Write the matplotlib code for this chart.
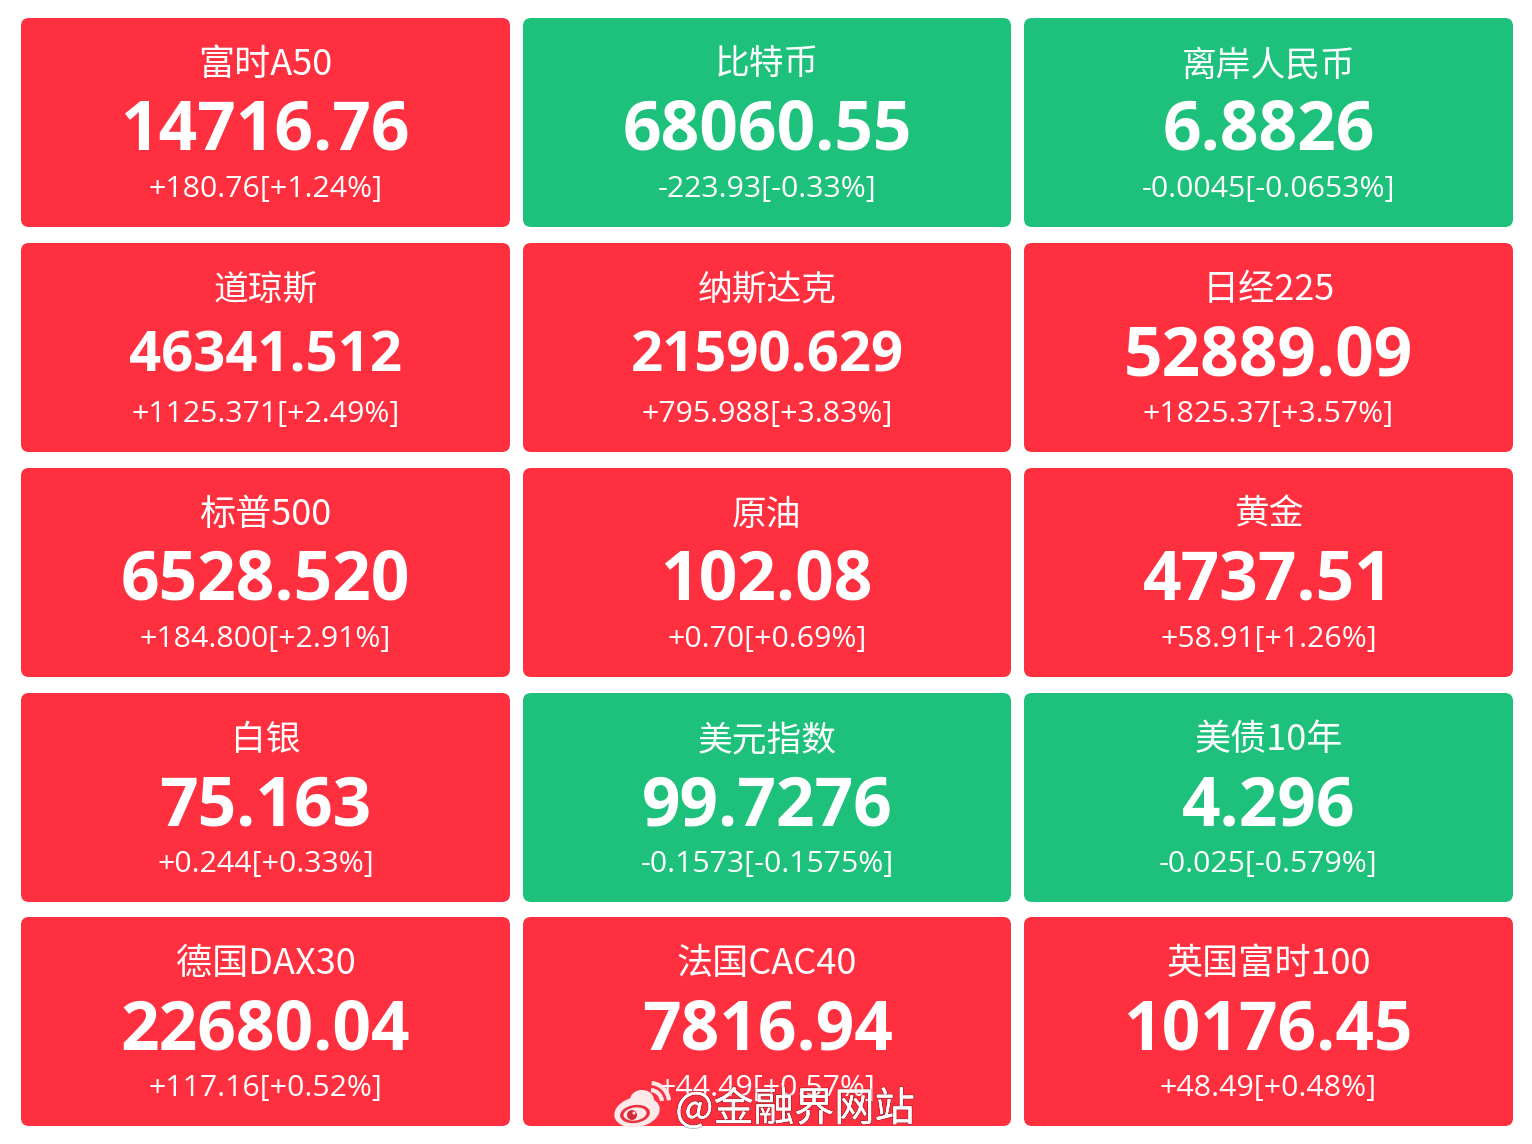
import matplotlib
matplotlib.use("Agg")
import matplotlib.pyplot as plt
import matplotlib.patheffects as pe
from matplotlib.patches import FancyBboxPatch, Ellipse, Arc, Circle

names = ["富时A50", "比特币", "离岸人民币",
         "道琼斯", "纳斯达克", "日经225",
         "标普500", "原油", "黄金",
         "白银", "美元指数", "美债10年",
         "德国DAX30", "法国CAC40", "英国富时100"]
values = ["14716.76", "68060.55", "6.8826",
          "46341.512", "21590.629", "52889.09",
          "6528.520", "102.08", "4737.51",
          "75.163", "99.7276", "4.296",
          "22680.04", "7816.94", "10176.45"]
changes = ["+180.76[+1.24%]", "-223.93[-0.33%]", "-0.0045[-0.0653%]",
           "+1125.371[+2.49%]", "+795.988[+3.83%]", "+1825.37[+3.57%]",
           "+184.800[+2.91%]", "+0.70[+0.69%]", "+58.91[+1.26%]",
           "+0.244[+0.33%]", "-0.1573[-0.1575%]", "-0.025[-0.579%]",
           "+117.16[+0.52%]", "+44.49[+0.57%]", "+48.49[+0.48%]"]

RED = "#fe303f"
GREEN = "#1dc17c"
lefts = [21, 523, 1024]
widths = [489, 488, 489]
tops = [18, 243, 468, 693, 917]
card_h = 209

plt.rcParams['font.family'] = ['Noto Sans CJK SC', 'DejaVu Sans']

fig = plt.figure(figsize=(15.32, 11.44), dpi=100)
ax = fig.add_axes([0, 0, 1, 1])
ax.set_xlim(0, 1532)
ax.set_ylim(1144, 0)
ax.axis("off")

for i in range(len(names)):
    x = lefts[i % 3]
    w = widths[i % 3]
    y = tops[i // 3]
    col = GREEN if changes[i].startswith("-") else RED
    ax.add_patch(FancyBboxPatch((x + 8, y + 8), w - 16, card_h - 16,
                                boxstyle="round,pad=8,rounding_size=8", fc=col, ec="none"))
    cx = x + w / 2
    # names with latin letters or digits come out a little narrow in this font
    name_size = 26 if any(c.isascii() for c in names[i]) else 25
    ax.text(cx, y + 57, names[i], color="white", fontsize=name_size, ha="center", va="baseline")
    # the 9 character values are set a bit smaller
    long_val = len(values[i]) >= 9
    ax.text(cx, y + (129 if long_val else 132), values[i], color="white",
            fontsize=40.5 if long_val else 48.7, fontweight="bold",
            family="Open Sans", ha="center", va="baseline")
    ax.text(cx, y + 179, changes[i], color="white", fontsize=21.8, family="Open Sans",
            ha="center", va="baseline")

# weibo watermark
LOGO = "#fde8ea"
ax.text(795, 1121, "@金融界网站", color="white", fontsize=29, ha="center", va="baseline",
        path_effects=[pe.withStroke(linewidth=1.5, foreground="#00000040"), pe.Normal()])
ax.add_patch(Ellipse((637, 1112), 46, 30, angle=-12, fc=LOGO, ec="none", zorder=5))
ax.add_patch(Ellipse((642, 1100), 24, 20, fc=LOGO, ec="none", zorder=5))
ax.add_patch(Ellipse((635, 1114), 30, 18, angle=-8, fc="#e8323f", ec="none", zorder=6))
ax.add_patch(Ellipse((635, 1114), 23, 13, angle=-8, fc=LOGO, ec="none", zorder=7))
ax.add_patch(Circle((632, 1115), 5, fc="#d22c38", ec="none", zorder=8))
ax.add_patch(Circle((634, 1113), 1.5, fc=LOGO, ec="none", zorder=9))
ax.add_patch(Arc((650, 1102), 38, 38, theta1=-85, theta2=-5, color=LOGO, lw=3, zorder=7))
ax.add_patch(Arc((650, 1102), 24, 24, theta1=-85, theta2=-5, color=LOGO, lw=3, zorder=7))

fig.savefig("out.png", dpi=100, facecolor="white")
